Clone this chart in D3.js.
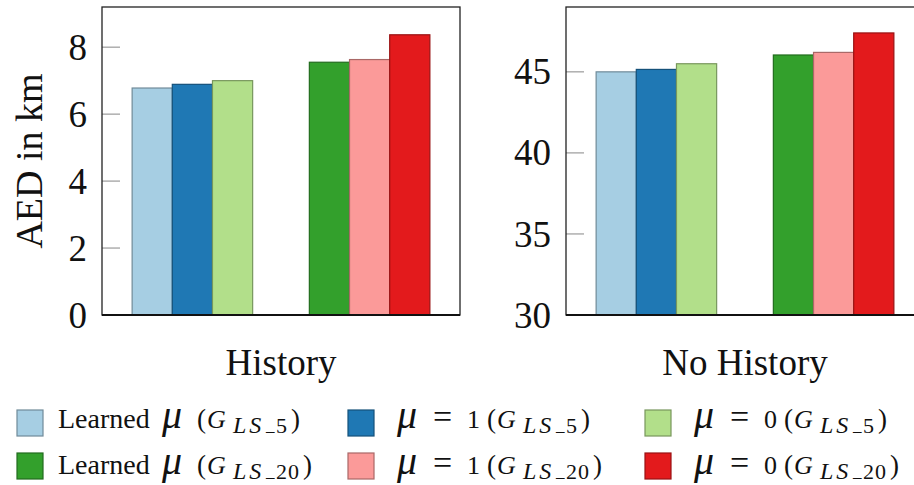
<!DOCTYPE html>
<html>
<head>
<meta charset="utf-8">
<script src="https://cdn.jsdelivr.net/npm/d3@7"></script>
</head>
<body style="margin:0">
<svg id="chart" width="914" height="485" style="display:block"></svg>
<script>
// clusters inside each panel, and the three settings per cluster
const clusters = ["LS_5", "LS_20"]
const settings = ["learned", "mu1", "mu0"]
const panels = ["History", "No History"]

// AED in km (order: learned, mu=1, mu=0)
const historyLS5 = [6.78, 6.89, 7.0]
const historyLS20 = [7.55, 7.63, 8.37]
const noHistoryLS5 = [45.0, 45.15, 45.5]
const noHistoryLS20 = [46.04, 46.2, 47.4]

const historyTicks = [0, 2, 4, 6, 8]
const noHistoryTicks = [30, 35, 40, 45]

const colorsLS5 = ["#a6cee3", "#1f78b4", "#b2df8a"]
const colorsLS20 = ["#33a02c", "#fb9a99", "#e31a1c"]

// legend text parts: prefix word, mu value (null = learned), subscript
const legendPrefix = ["Learned", "", ""]
const legendMu = [null, "1", "0"]
const legendSub = [["LS", "5"], ["LS", "20"]]

const fontName = "Liberation Serif"

const svg = d3.select("#chart")

const plotTop = 7
const plotBottom = 315
const plotWidth = 358

const panelSpecs = [
  { name: panels[0], left: 102, domain: [0, 9.2], ticks: historyTicks, data: [historyLS5, historyLS20] },
  { name: panels[1], left: 566, domain: [30, 49], ticks: noHistoryTicks, data: [noHistoryLS5, noHistoryLS20] }
]
const clusterColors = [colorsLS5, colorsLS20]

function edge(c) {
  return d3.color(c).darker(1.1).formatHex()
}

function label(sel, size) {
  return sel.attr("font-family", fontName)
    .style("font-family", fontName)
    .attr("font-size", size)
    .attr("fill", "#111")
}

panelSpecs.forEach(p => {
  const g = svg.append("g").attr("transform", `translate(${p.left},0)`)

  const x0 = d3.scaleBand()
    .domain(clusters)
    .range([0, plotWidth])
    .paddingInner(0.32)
    .paddingOuter(0.17)

  const x1 = d3.scaleBand()
    .domain(settings)
    .range([0, x0.bandwidth()])

  const y = d3.scaleLinear()
    .domain(p.domain)
    .range([plotBottom, plotTop])

  // tick marks inside the frame
  g.selectAll("line.tick")
    .data(p.ticks)
    .join("line")
    .attr("class", "tick")
    .attr("x1", 0)
    .attr("x2", 18)
    .attr("y1", d => y(d))
    .attr("y2", d => y(d))
    .attr("stroke", "#9a9a9a")
    .attr("stroke-width", 1.2)

  g.selectAll("text.ticklabel")
    .data(p.ticks)
    .join("text")
    .attr("class", "ticklabel")
    .attr("x", -15)
    .attr("y", d => y(d))
    .attr("dy", "0.34em")
    .attr("text-anchor", "end")
    .call(label, 37)
    .text(d => d)

  clusters.forEach((cl, ci) => {
    g.append("g")
      .selectAll("rect")
      .data(p.data[ci])
      .join("rect")
      .attr("x", (d, i) => x0(cl) + x1(settings[i]))
      .attr("width", x1.bandwidth())
      .attr("y", d => y(d))
      .attr("height", d => plotBottom - y(d))
      .attr("fill", (d, i) => clusterColors[ci][i])
      .attr("stroke", (d, i) => edge(clusterColors[ci][i]))
      .attr("stroke-width", 1.2)
  })

  // frame
  g.append("rect")
    .attr("x", 0)
    .attr("y", plotTop)
    .attr("width", plotWidth)
    .attr("height", plotBottom - plotTop)
    .attr("fill", "none")
    .attr("stroke", "#222")
    .attr("stroke-width", 1.3)

  g.append("line")
    .attr("x1", 0)
    .attr("x2", plotWidth)
    .attr("y1", plotBottom)
    .attr("y2", plotBottom)
    .attr("stroke", "#111")
    .attr("stroke-width", 1.8)

  g.append("text")
    .attr("x", plotWidth / 2)
    .attr("y", 375)
    .attr("text-anchor", "middle")
    .call(label, 37)
    .text(p.name)
})

svg.append("text")
  .attr("transform", "translate(42,161) rotate(-90)")
  .attr("text-anchor", "middle")
  .call(label, 38)
  .text("AED in km")

// legend
const legendCols = [17, 348, 645]
const legendRows = [410, 453]
const legendBase = [428, 474]
const box = 26

legendSub.forEach((sub, r) => {
  settings.forEach((s, c) => {
    const lx = legendCols[c]
    const base = legendBase[r]
    svg.append("rect")
      .attr("x", lx)
      .attr("y", legendRows[r])
      .attr("width", box)
      .attr("height", box)
      .attr("fill", clusterColors[r][c])
      .attr("stroke", edge(clusterColors[r][c]))
      .attr("stroke-width", 1.2)

    // pieces: text, x offset from the box, size, italic, baseline shift
    const parts = []
    if (legendPrefix[c]) {
      parts.push({ t: legendPrefix[c], x: 41, s: 28 })
      parts.push({ t: "μ", x: 145, s: 40, it: true })
    } else {
      parts.push({ t: "μ", x: 49, s: 40, it: true })
      parts.push({ t: "=", x: 85, s: 34 })
      parts.push({ t: legendMu[c], x: 119, s: 26 })
    }
    const paren = legendPrefix[c] ? 180 : 139
    parts.push({ t: "(", x: paren, s: 27 })
    parts.push({ t: "G", x: paren + 10, s: 26, it: true })
    parts.push({ t: sub[0], x: paren + 36, s: 24, it: true, dy: 5, ls: 3 })
    parts.push({ t: "_", x: paren + 69, s: 17, dy: 3 })
    parts.push({ t: sub[1], x: paren + 79, s: 22, dy: 5, ls: 1 })

    let last = null
    parts.forEach(pt => {
      last = svg.append("text")
        .attr("x", lx + pt.x)
        .attr("y", base + (pt.dy || 0))
        .call(label, pt.s)
        .attr("font-style", pt.it ? "italic" : "normal")
        .attr("letter-spacing", pt.ls || 0)
        .text(pt.t)
    })
    const end = lx + parts[parts.length - 1].x + last.node().getComputedTextLength() + 3
    svg.append("text")
      .attr("x", end)
      .attr("y", base)
      .call(label, 27)
      .text(")")
  })
})
</script>
</body>
</html>
